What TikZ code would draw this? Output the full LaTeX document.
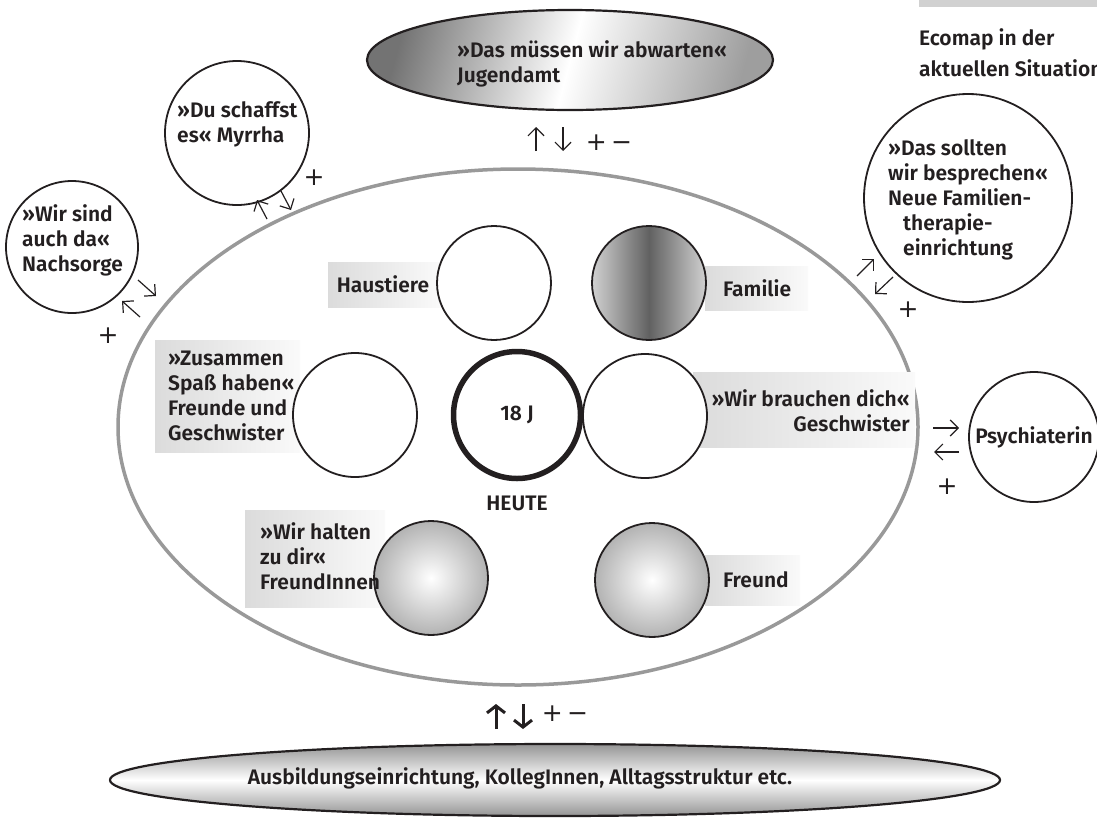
\documentclass[tikz,border=0pt]{standalone}
\usepackage{fontspec}
\setmainfont{Fira Sans}[BoldFont={* SemiBold}]
\newfontfamily\symfont{DejaVu Sans}
\usetikzlibrary{arrows.meta,shapes.geometric}
\definecolor{ink}{HTML}{231F20}
\begin{document}
\begin{tikzpicture}[x=1pt,y=-1pt,
  txt/.style={font=\bfseries\fontsize{21}{25}\selectfont, text=ink, align=left, inner sep=0pt},
  sym/.style={font=\symfont\fontsize{25}{25}\selectfont, text=ink, inner sep=0pt},
  circ/.style={circle, draw=ink, line width=1.8pt, minimum size=#1, inner sep=0pt, fill=white},
  lbox/.style={rectangle, left color=black!14, right color=black!2, inner sep=0pt, anchor=north west},
  thinarrow/.style={draw=ink, line width=1.2pt, -{Straight Barb[length=8pt, width=16pt, line width=1.2pt]}},
  boldarrow/.style={draw=ink, line width=3pt, -{Straight Barb[length=7pt, width=18pt, line width=3pt]}},
  extell/.style={ellipse, draw=ink, line width=2.2pt, inner sep=0pt}
]
\useasboundingbox (0,0) rectangle (1097,820);

% title bar
\fill[black!18] (919,0) rectangle (1097,7);
\node[txt, anchor=base west] (title1) at (919,45) {Ecomap in der};
\node[txt, anchor=base west] (title2) at (919,76) {aktuellen Situation};

% big ellipse
\node[ellipse, draw=black!40, line width=3.5pt, minimum width=800, minimum height=516, inner sep=0pt] (eco) at (518,427) {};

% label boxes
\node[lbox, minimum width=112, minimum height=45] (bhaus) at (328,262) {};
\node[lbox, minimum width=103, minimum height=44] (bfam) at (705,266) {};
\node[lbox, minimum width=145, minimum height=112] (bzus) at (155,340) {};
\node[lbox, minimum width=222, minimum height=75] (bbra) at (693,372) {};
\node[lbox, minimum width=140, minimum height=97] (bhal) at (245,510) {};
\node[lbox, minimum width=95, minimum height=50] (bfre) at (705,555) {};

% inner circles
\node[circ=114] (haus) at (494,283) {};
\node[circ=114, left color=black!18, right color=black!18, middle color=black!62] (fam) at (649,283) {};
\node[circ=124] (zus) at (355,415) {};
\node[circ=124] (bra) at (645,416) {};
\node[circle, draw=ink, line width=5.5pt, minimum size=127, inner sep=0pt, fill=white] (ego) at (517,415) {};
\node[circ=114, inner color=white, outer color=black!30] (hal) at (431,578) {};
\node[circ=114, inner color=white, outer color=black!30] (fre) at (652,580) {};

% inner texts
\node[txt] (thaus) at (383,284) {Haustiere};
\node[txt, anchor=west] (tfam) at (723,288) {Familie};
\node[txt, anchor=west] (tzus) at (168,396) {»Zusammen\\Spaß haben«\\Freunde und\\Geschwister};
\node[txt, anchor=east, align=right] (tbra) at (910,411) {»Wir brauchen dich«\\Geschwister};
\node[txt, anchor=west] (thal) at (260,556) {»Wir halten\\zu dir«\\FreundInnen};
\node[txt, anchor=west] (tfre) at (723,580) {Freund};
\node[txt] (tego) at (ego) {18 J};
\node[txt] (heute) at (517,503) {HEUTE};

% outer systems
\node[extell, minimum width=406, minimum height=100, left color=black!55, right color=black!38, middle color=white, shading angle=75] (jug) at (570,60) {};
\node[txt, anchor=west] (tjug) at (457,64) {»Das müssen wir abwarten«\\Jugendamt};

\node[circ=144] (myr) at (237,133) {};
\node[txt, anchor=west] (tmyr) at (177,124) {»Du schaffst\\es« Myrrha};

\node[circ=132] (nach) at (72,247) {};
\node[txt, anchor=west] (tnach) at (22,240) {»Wir sind\\auch da«\\Nachsorge};

\node[circ=208] (neu) at (968,198) {};
\node[txt, anchor=west] (tneu) at (888,200) {»Das sollten\\wir besprechen«\\Neue Familien-\\\hspace*{15pt}therapie-\\\hspace*{15pt}einrichtung};

\node[circ=130] (psy) at (1034,437) {};
\node[txt] (tpsy) at (1034,437) {Psychiaterin};

\node[extell, minimum width=890, minimum height=72, top color=black!42, bottom color=black!42, middle color=white] (aus) at (555,780) {};
\node[txt] (taus) at (520,778) {Ausbildungseinrichtung, KollegInnen, Alltagsstruktur etc.};

% relation arrows
\coordinate (j1a) at (536,151); \coordinate (j1b) at (536,127);
\coordinate (j2a) at (563,127); \coordinate (j2b) at (563,151);
\draw[thinarrow] (j1a) -- (j1b);
\draw[thinarrow] (j2a) -- (j2b);
\node[sym] (jpm) at (609,143) {+\,−};

\coordinate (m1a) at (267,219); \coordinate (m1b) at (257,200);
\coordinate (m2a) at (281,191); \coordinate (m2b) at (291,210);
\draw[thinarrow] (m1a) -- (m1b);
\draw[thinarrow] (m2a) -- (m2b);
\node[sym] (mp) at (314,178) {+};

\coordinate (n1a) at (138,280); \coordinate (n1b) at (156,296);
\coordinate (n2a) at (140,317); \coordinate (n2b) at (122,301);
\draw[thinarrow] (n1a) -- (n1b);
\draw[thinarrow] (n2a) -- (n2b);
\node[sym] (np) at (108,336) {+};

\coordinate (f1a) at (857,276); \coordinate (f1b) at (874,259);
\coordinate (f2a) at (893,277); \coordinate (f2b) at (875,294);
\draw[thinarrow] (f1a) -- (f1b);
\draw[thinarrow] (f2a) -- (f2b);
\node[sym] (fp) at (908,310) {+};

\coordinate (p1a) at (933,428); \coordinate (p1b) at (959,428);
\coordinate (p2a) at (959,452); \coordinate (p2b) at (934,452);
\draw[thinarrow] (p1a) -- (p1b);
\draw[thinarrow] (p2a) -- (p2b);
\node[sym] (pp) at (947,487) {+};

\coordinate (b1a) at (496,729); \coordinate (b1b) at (496,704);
\coordinate (b2a) at (523,704); \coordinate (b2b) at (523,729);
\draw[boldarrow] (b1a) -- (b1b);
\draw[boldarrow] (b2a) -- (b2b);
\node[sym] (bpm) at (565,714) {+\,−};
\end{tikzpicture}
\end{document}
